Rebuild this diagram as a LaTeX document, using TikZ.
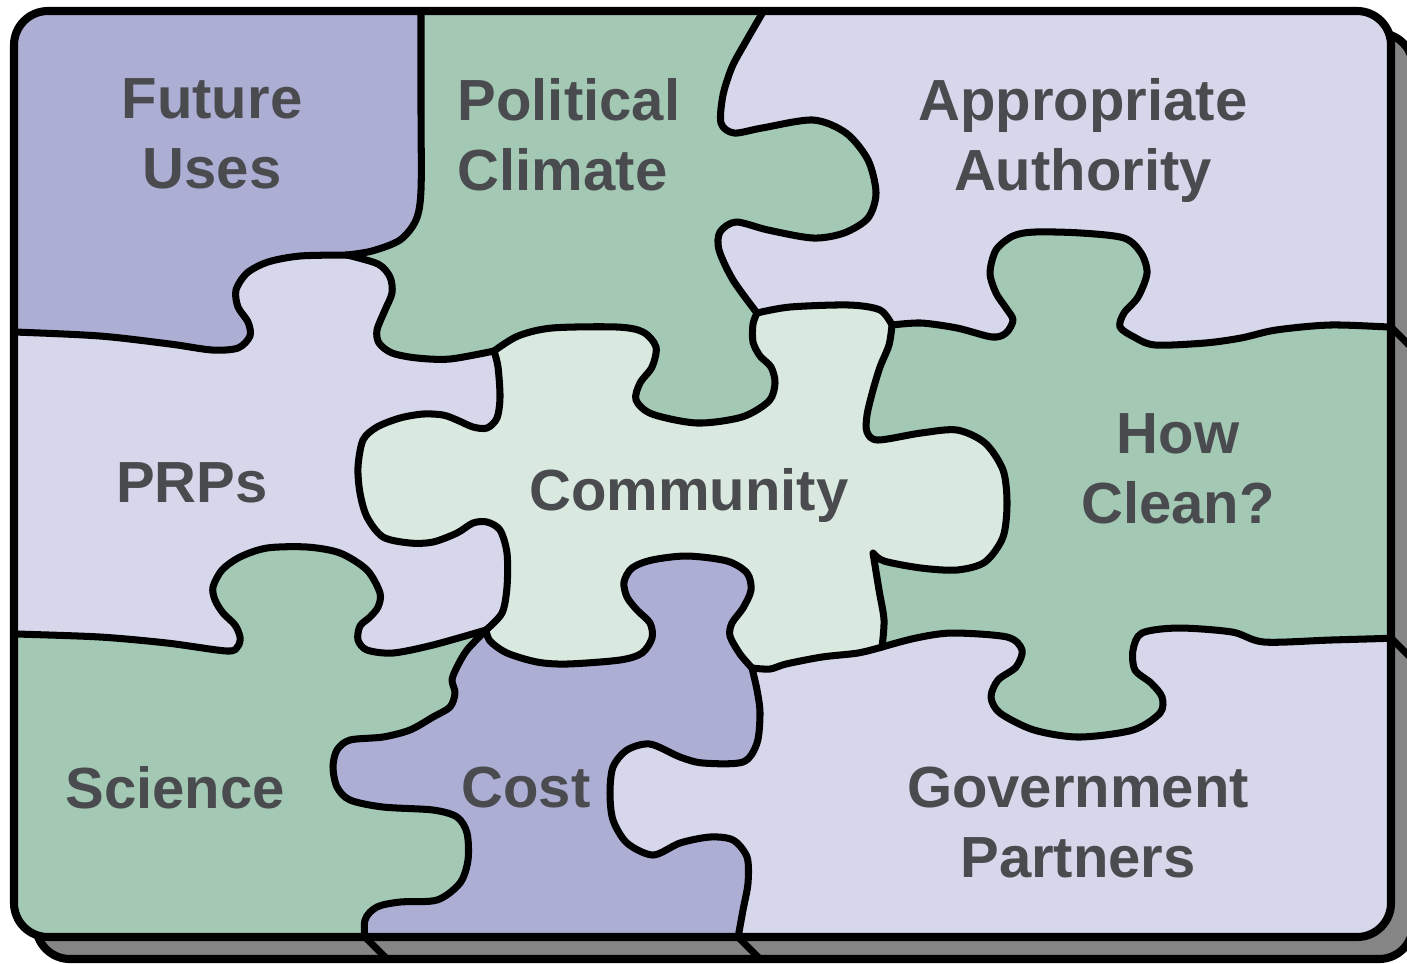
\documentclass[tikz,border=0pt]{standalone}
\usepackage{fontspec}
\setmainfont{Liberation Sans}

\definecolor{lavlight}{HTML}{D6D7EA}
\definecolor{lavdark}{HTML}{ACAED4}
\definecolor{sage}{HTML}{A3C9B5}
\definecolor{mint}{HTML}{DAE9E0}
\definecolor{shadowgray}{HTML}{858585}
\definecolor{textgray}{HTML}{4A4B4F}

% seams between the pieces (pixel units, y down)
\newcommand{\bFuPc}{-- plot[smooth] coordinates {(421,12) (421,110) (421,190) (416,220) (400,240) (372,251) (347,255)}}
\newcommand{\bFuPr}{-- plot[smooth] coordinates {(347,255) (300,256) (268,262) (247,273) (236,290) (238,307) (248,322) (250,336) (238,348) (212,350) (170,344) (100,336) (15,332) (0,332)}}
\newcommand{\bPcAu}{-- plot[smooth] coordinates {(763,12) (745,43) (732,67) (723,95) (721,123) (734,133) (762,128) (813,120) (846,133) (868,160) (876,193) (868,218) (844,233) (813,238) (768,230) (736,222) (720,232) (719,250) (733,280) (757,313)}}
\newcommand{\bPcPr}{-- plot[smooth] coordinates {(494,351) (450,359) (417,358) (392,353) (379,343) (377,330) (385,310) (392,293) (390,277) (378,264) (347,255)}}
\newcommand{\bPcCm}{-- plot[smooth] coordinates {(494,351) (518,336) (552,328) (617,327) (643,332) (656,347) (652,367) (640,383) (636,400) (652,414) (697,423) (742,417) (769,401) (775,383) (771,367) (760,356) (753,342) (753,324) (757,313)}}
\newcommand{\bCmAu}{-- plot[smooth] coordinates {(757,313) (790,307) (849,305) (880,310) (892,325)}}
\newcommand{\bCmHc}{-- plot[smooth] coordinates {(892,325) (889,345) (880,367) (873,390) (867,415) (867,432) (878,440) (921,433) (957,430) (985,443) (1003,470) (1007,503) (1003,537) (985,562) (957,570) (921,568) (884,561) (873,553)} -- plot[smooth] coordinates {(873,553) (879,590) (884,620) (882,647)}}
\newcommand{\bHcAu}{-- plot[smooth] coordinates {(892,325) (921,323) (957,328) (992,337) (1006,333) (1013,320) (1006,308) (996,293) (990,273) (996,250) (1013,236) (1035,232) (1081,233) (1124,238) (1141,253) (1147,273) (1138,297) (1124,313) (1120,327) (1134,337) (1155,345) (1205,343) (1241,338) (1276,330) (1330,325) (1390,327) (1400,327)}}
\newcommand{\bHcGv}{-- plot[smooth] coordinates {(1400,638) (1331,640) (1264,642) (1232,632) (1178,628) (1142,633) (1133,650) (1135,670) (1151,683) (1162,697) (1160,713) (1133,730) (1079,737) (1034,730) (1000,713) (991,697) (998,680) (1016,667) (1022,650) (1007,637) (952,633) (916,638) (882,647)}}
\newcommand{\bCmGv}{-- plot[smooth] coordinates {(882,647) (858,653) (822,657) (786,664) (770,669) (752,668)}}
\newcommand{\bCmPr}{-- plot[smooth] coordinates {(486,630) (502,613) (507,587) (507,553) (500,530) (487,522) (473,523) (457,533) (433,542) (410,543) (383,537) (367,517) (360,493) (358,467) (363,440) (377,427) (400,418) (423,414) (443,415) (457,420) (473,427) (487,428) (497,418) (500,397) (498,367) (494,351)}}
\newcommand{\bScPr}{-- plot[smooth] coordinates {(0,633) (18,634) (100,637) (167,643) (227,651) (238,646) (240,637) (235,625) (223,613) (215,600) (213,587) (222,570) (240,557) (267,548) (307,547) (340,553) (367,570) (380,593) (378,607) (370,617) (360,626) (358,640) (367,650) (393,653) (433,645) (486,630)}}
\newcommand{\bCoCm}{-- plot[smooth] coordinates {(486,630) (490,641) (507,653) (537,662) (567,664) (620,660) (642,653) (652,638) (650,623) (637,610) (627,597) (624,582) (632,568) (652,560) (687,556) (727,561) (747,573) (751,590) (743,608) (732,623) (730,636) (740,654) (752,668)}}
\newcommand{\bCoGv}{-- plot[smooth] coordinates {(752,668) (757,690) (760,713) (757,743) (743,762) (703,763) (680,757) (650,744) (627,750) (613,767) (610,793) (613,820) (627,843) (653,855) (680,843) (710,837) (733,840) (747,857) (748,883) (743,910) (738,938) (737,948)}}
\newcommand{\bScCo}{-- plot[smooth] coordinates {(365,948) (365,920) (377,907) (400,902) (437,900) (460,883) (468,860) (467,833) (457,817) (433,810) (383,807) (350,800) (337,787) (333,767) (337,750) (350,740) (383,737) (410,730) (433,717) (450,707) (455,693) (452,680) (457,667) (467,650) (486,630)}}

\begin{document}
\begin{tikzpicture}[
    x=0.01cm, y=-0.01cm,
    seam/.style={
        draw=black,
        line width=2pt,
        line join=round,
        line cap=round
    },
    boardframe/.style={
        draw=black,
        line width=2.3pt,
        rounded corners=0.34cm
    },
    shadowbox/.style={
        boardframe,
        fill=shadowgray
    },
    piecetext/.style={
        anchor=north,
        inner sep=0pt,
        align=center,
        text=textgray,
        font=\bfseries\fontsize{16.5}{19.9}\selectfont
    }
]

    \useasboundingbox (0,0) rectangle (1407,963);
    \clip (0,0) rectangle (1407,963);

    % Shadow and edge thickness
    \draw[shadowbox] (36,33) rectangle (1413,959);
    \draw[seam] (365,937) -- (387,959);
    \draw[seam] (738,937) -- (760,959);
    \draw[seam] (1391,327) -- (1413,349);
    \draw[seam] (1391,638) -- (1413,660);

    \begin{scope}
        \clip[rounded corners=0.34cm] (14,11) rectangle (1391,937);
        \fill[lavlight] (0,0) rectangle (1407,963);

        % Pieces (later ones cover the rough edges of earlier ones)
        \fill[sage] (300,0) -- (770,0) -- (763,12) \bPcAu -- (800,330) -- (800,440) -- (620,440) -- (494,351) \bPcPr -- (300,200) -- cycle;
        \fill[sage] (892,325) \bHcAu -- (1420,327) -- (1420,638) \bHcGv -- (840,600) -- (840,400) -- cycle;
        \fill[lavdark] (0,0) -- (421,0) \bFuPc \bFuPr -- cycle;
        \fill[mint] (494,351) \bPcCm \bCmAu \bCmHc \bCmGv -- (700,710) -- (540,710) -- (470,660) \bCmPr -- cycle;
        \fill[sage] (0,633) \bScPr -- (520,700) -- (520,980) -- (0,980) -- cycle;
        \fill[lavdark] (486,630) \bCoCm \bCoGv -- (737,980) -- (365,980) \bScCo -- cycle;

        % Seams
        \draw[seam] (421,12) \bFuPc;
        \draw[seam] (347,255) \bFuPr;
        \draw[seam] (763,12) \bPcAu;
        \draw[seam] (494,351) \bPcPr;
        \draw[seam] (494,351) \bPcCm;
        \draw[seam] (757,313) \bCmAu;
        \draw[seam] (892,325) \bCmHc;
        \draw[seam] (892,325) \bHcAu;
        \draw[seam] (1400,638) \bHcGv;
        \draw[seam] (882,647) \bCmGv;
        \draw[seam] (486,630) \bCmPr;
        \draw[seam] (0,633) \bScPr;
        \draw[seam] (486,630) \bCoCm;
        \draw[seam] (752,668) \bCoGv;
        \draw[seam] (365,948) \bScCo;
    \end{scope}

    \draw[boardframe] (14,11) rectangle (1391,937);

    % Labels
    \node[piecetext] (future) at (212,78) {Future\\Uses};
    \node[piecetext, align=left, anchor=north west] (political) at (457,78) {Political\\Climate};
    \node[piecetext] (authority) at (1083,78) {Appropriate\\Authority};
    \node[piecetext] (prps) at (192,462) {PRPs};
    \node[piecetext] (community) at (689,468) {Community};
    \node[piecetext] (howclean) at (1178,413) {How\\Clean?};
    \node[piecetext] (science) at (175,766) {Science};
    \node[piecetext] (cost) at (526,766) {Cost};
    \node[piecetext] (government) at (1078,766) {Government\\Partners};

\end{tikzpicture}
\end{document}
